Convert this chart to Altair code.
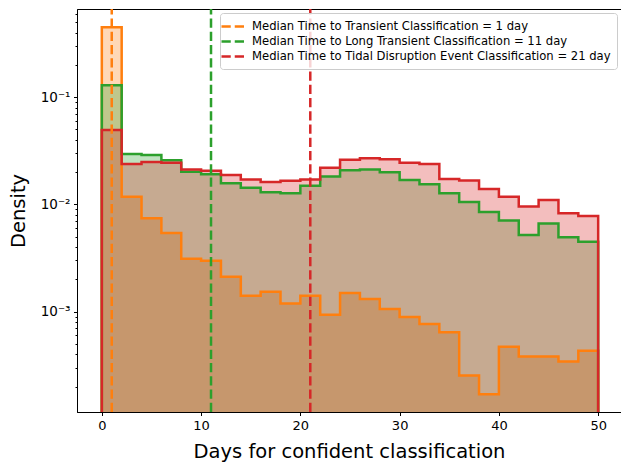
import altair as alt
import pandas as pd

# Histogram bins: 25 bins of 2 days from 0 to 50
bin_edges = list(range(0, 52, 2))

# Density per bin for each class
transient = [0.448, 0.0118, 0.00743, 0.0054, 0.00311, 0.00298, 0.00212, 0.00141,
             0.00153, 0.00119, 0.00141, 0.000938, 0.00149, 0.00131, 0.00106, 0.00089,
             0.000767, 0.000642, 0.000254, 0.00017, 0.00047, 0.000381, 0.000381,
             0.000343, 0.000431]
long_transient = [0.129, 0.0295, 0.0289, 0.0258, 0.0201, 0.0191, 0.0157, 0.0143,
                  0.013, 0.0127, 0.0149, 0.0182, 0.0208, 0.0212, 0.0199, 0.0169,
                  0.0154, 0.0127, 0.01055, 0.00851, 0.00707, 0.00517, 0.00663,
                  0.00495, 0.00448]
tde = [0.0493, 0.0238, 0.0248, 0.0245, 0.0212, 0.0206, 0.0188, 0.0171, 0.0162,
       0.0166, 0.0171, 0.022, 0.026, 0.0269, 0.0263, 0.0245, 0.0238, 0.0172,
       0.0167, 0.0139, 0.0118, 0.00955, 0.011, 0.00828, 0.00781]

class_names = ["Transient", "Long Transient", "Tidal Disruption Event"]
medians = [1, 11, 21]
colors = ["#ff7f0e", "#2ca02c", "#d62728"]
densities = [transient, long_transient, tde]

W, H = 544, 403
X_DOMAIN = [-2.5, 52.3]
Y_DOMAIN = [1.16e-4, 0.663]
FLOOR = Y_DOMAIN[0] / 10  # below the visible range; clipped away
FONT = "DejaVu Sans"

x_scale = alt.Scale(domain=X_DOMAIN, nice=False, zero=False)
y_scale = alt.Scale(type="log", domain=Y_DOMAIN, nice=False)

major = [1e-3, 1e-2, 1e-1]
minor = [m * 10 ** e for e in (-4, -3, -2, -1) for m in range(2, 10)]
y_ticks = sorted([v for v in major + minor if Y_DOMAIN[0] <= v <= Y_DOMAIN[1]])

is_major = "abs(log(datum.value)/LN10 - round(log(datum.value)/LN10)) < 1e-6"

x_axis = alt.Axis(
    values=[0, 10, 20, 30, 40, 50], title="Days for confident classification",
    grid=False, tickSize=3.5, labelPadding=4, labelFontSize=13,
    titleFontSize=19.5, titleFontWeight="normal", titleY=45,
    titleBaseline="alphabetic",
)
y_axis = alt.Axis(
    values=y_ticks, title="Density", grid=False,
    tickSize={"condition": {"test": is_major, "value": 3.5}, "value": 2},
    labelExpr=("abs(datum.value - 0.1) < 1e-6 ? '10⁻¹' : "
               "abs(datum.value - 0.01) < 1e-7 ? '10⁻²' : "
               "abs(datum.value - 0.001) < 1e-8 ? '10⁻³' : ''"),
    labelPadding=3.5, labelFontSize=13.5, titleFontSize=19.5,
    titleFontWeight="normal", titleX=-59, titleY=H / 2,
    titleBaseline="middle", titleAngle=-90,
)


def area_frame(vals):
    ys = vals + [vals[-1]]
    return pd.DataFrame({"x": bin_edges, "y": ys, "base": [FLOOR] * len(ys)})


def line_frame(vals):
    xs = [bin_edges[0]] + bin_edges + [bin_edges[-1]]
    ys = [FLOOR] + vals + [vals[-1], FLOOR]
    return pd.DataFrame({"x": xs, "y": ys, "i": range(len(xs))})


fills = []
lines = []
for vals, col in zip(densities, colors):
    fills.append(
        alt.Chart(area_frame(vals)).mark_area(
            interpolate="step-after", color=col, opacity=0.3, clip=True
        ).encode(
            x=alt.X("x:Q", scale=x_scale, axis=x_axis),
            y=alt.Y("y:Q", scale=y_scale, axis=y_axis, stack=None),
            y2="base:Q",
        )
    )
    lines.append(
        alt.Chart(line_frame(vals)).mark_line(
            interpolate="step-after", color=col, strokeWidth=2.5,
            strokeJoin="miter", clip=True
        ).encode(
            x=alt.X("x:Q", scale=x_scale, axis=x_axis),
            y=alt.Y("y:Q", scale=y_scale, axis=y_axis),
            order="i:Q",
        )
    )

labels = [f"Median Time to {n} Classification = {m} day"
          for n, m in zip(class_names, medians)]
median_df = pd.DataFrame({"label": labels, "median": medians})

rules = alt.Chart(median_df).mark_rule(
    strokeWidth=2.5, strokeDash=[9.25, 4]
).encode(
    x=alt.X("median:Q", scale=x_scale, axis=x_axis),
    y=alt.value(H),
    y2=alt.value(0),
    color=alt.Color(
        "label:N",
        scale=alt.Scale(domain=labels, range=colors),
        legend=alt.Legend(
            title=None, orient="top-right", offset=4,
            symbolType="M-2,0H2", symbolSize=144, symbolStrokeWidth=2.5,
            symbolDash=[9.25, 4], labelFontSize=11.6, labelLimit=0,
            labelOffset=11, padding=6, rowPadding=1,
            strokeColor="#cccccc", fillColor="rgba(255,255,255,0.8)",
            cornerRadius=3,
        ),
    ),
)

chart = alt.layer(*fills, *lines, rules).properties(
    width=W, height=H,
    autosize=alt.AutoSizeParams(type="none"),
    padding={"left": 77, "top": 9, "right": 0, "bottom": 50},
).configure(
    font=FONT,
).configure_view(
    stroke="black", strokeWidth=1,
).configure_axis(
    domainColor="black", tickColor="black", labelColor="black",
    titleColor="black", labelFont=FONT, titleFont=FONT, domainWidth=1,
    tickWidth=1,
).configure_legend(
    labelFont=FONT, labelColor="black",
)

chart.save("out.html", embed_options={"renderer": "svg", "actions": False})
